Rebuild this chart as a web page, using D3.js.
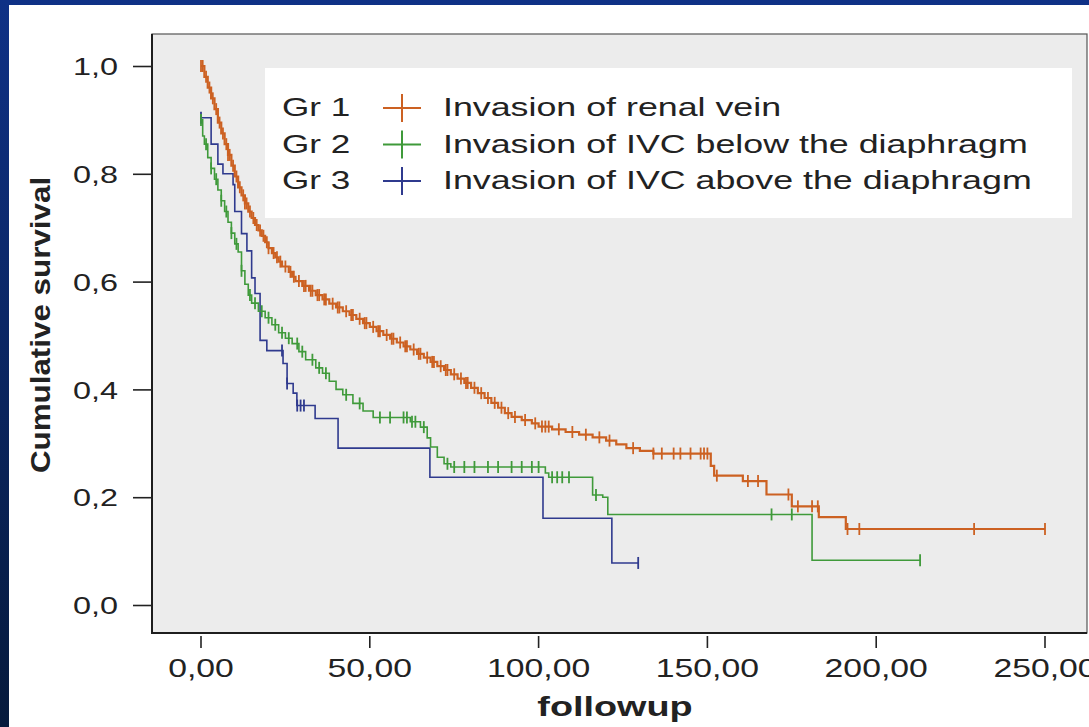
<!DOCTYPE html>
<html lang="en">
<head>
<meta charset="UTF-8">
<title>Cumulative survival by group</title>
<script src="https://d3js.org/d3.v7.min.js"></script>
<style>
    body { margin: 0; background: #0b2a6e; }
    svg { display: block; }
    text { font-family: "Liberation Sans", Arial, sans-serif; fill: #222; }
</style>
</head>
<body>
<svg id="chart" width="1089" height="727"></svg>
<script>
// Kaplan-Meier steps: [time, survival after the drop]
const gr1Steps = [[0,1.000],[1,.980],[2,.960],[3,.940],[4,.920],[5,.895],[6,.875],[7,.855],[8,.835],[9,.815],
    [10,.795],[11,.775],[12,.760],[13,.745],[14,.730],[15,.718],[16,.705],[17,.695],[18,.685],[19,.673],
    [20,.662],[21,.653],[22,.645],[23,.637],[24,.628],[26,.618],[27,.609],[28,.601],[30,.592],[32,.583],
    [34,.575],[36,.567],[38,.559],[40,.552],[42,.545],[44,.538],[46,.531],[48,.523],[50,.516],[52,.508],
    [54,.501],[56,.494],[58,.487],[60,.480],[62,.474],[64,.466],[66,.459],[68,.451],[70,.443],[72,.436],
    [74,.428],[76,.420],[78,.412],[80,.403],[82,.393],[84,.384],[86,.375],[88,.366],[90,.356],[92,.349],
    [95,.343],[98,.337],[100,.331],[104,.326],[108,.321],[112,.316],[116,.311],[120,.305],[123,.298],
    [126,.291],[130,.286],[134,.281],[151,.258],[152,.240],[160.5,.230],[167.5,.205],[175,.183],
    [183,.163],[191,.141]];
const gr1End = 250;
const gr1Censor = [0,0.5,1.5,2.5,3.5,4.5,5.5,6.5,7.5,8,8.5,9.5,10.5,11.5,12.5,13,13.5,14.5,15.5,16.5,17.5,
    18.5,19.5,20,21.5,22.5,23.5,25,26.5,27.5,29,30.5,31,32.5,33,34.5,35,36.5,37,39,40.5,41,43,44.5,45,47,48.5,
    49,51,52.5,53,55,56.5,57,59,60.5,61,63,64.5,65,67,68.5,69,71,72.5,73,75,77,78.5,79,81,83,85,87,89,91,93,
    96,99,101,102,103,106,110,114,118,121,128,134,136.5,140,142,145,148,149,150,152.8,162,165,174,176.8,181,
    182.7,191.5,195,229,250];

const gr2Steps = [[0,.900],[0.5,.870],[1,.855],[2,.830],[3,.810],[4,.790],[5,.770],[6,.750],[7,.730],[8,.710],
    [9,.690],[10,.670],[11,.655],[12,.620],[13,.595],[14,.575],[15,.560],[17,.545],[19,.533],[21,.520],
    [23,.505],[25,.495],[27,.485],[29,.470],[31,.455],[34,.440],[36,.430],[38,.415],[40,.400],[42,.390],
    [45,.374],[48,.360],[51,.348],[62,.340],[65,.330],[67,.310],[68,.293],[70,.274],[72,.262],[74,.256],
    [102,.245],[103,.237],[116,.204],[119,.200],[120.5,.168],[181,.083]];
const gr2End = 213;
const gr2Censor = [0,1.5,3,4.5,6,7.5,9,10.5,12,14.5,16,18,20,22,24,26,28.5,30,33,35,37,43,47,53,56,60,61,
    62.5,63.5,66,73,75,78,81,85,88,92,95,98,100,104,105.5,107,109,117,169,175,213];

const gr3Steps = [[0,.904],[3,.855],[5,.818],[6.5,.800],[9.5,.780],[10,.730],[12,.689],[13.6,.657],
    [15,.607],[16,.578],[17.5,.491],[19.5,.472],[24.3,.448],[25.5,.411],[27.3,.393],[28.4,.370],
    [33.8,.346],[40.6,.291],[67.8,.237],[101.3,.161],[121.7,.078]];
const gr3End = 129.5;
const gr3Censor = [0,24,25.5,28.5,29.5,30.5,129.5];

const groupCodes = ["Gr 1", "Gr 2", "Gr 3"];
const groupNames = ["Invasion of renal vein", "Invasion of IVC below the diaphragm", "Invasion of IVC above the diaphragm"];
const groupColors = ["#cc6122", "#3f9a3a", "#2f3a8e"];

const xTicks = [0, 50, 100, 150, 200, 250];
const yTicks = [0, 0.2, 0.4, 0.6, 0.8, 1.0];

const SX = 1.35; // the slide stretches everything horizontally

const svg = d3.select("#chart");

// slide background + white panel
const defs = svg.append("defs");
const grad = defs.append("linearGradient").attr("id", "slide").attr("x1", 0).attr("y1", 0).attr("x2", 0).attr("y2", 1);
grad.append("stop").attr("offset", "0%").attr("stop-color", "#0f3186");
grad.append("stop").attr("offset", "100%").attr("stop-color", "#061a3c");
svg.append("rect").attr("width", 1089).attr("height", 727).attr("fill", "url(#slide)");
svg.append("rect").attr("x", 9).attr("y", 5).attr("width", 1080).attr("height", 722).attr("fill", "#fff");

const plot = {left: 152, top: 34, right: 1087, bottom: 633};

const x = d3.scaleLinear().domain([0, 250]).range([201, 1045]);
const y = d3.scaleLinear().domain([0, 1]).range([605, 66]);

svg.append("rect")
    .attr("x", plot.left).attr("y", plot.top)
    .attr("width", plot.right - plot.left).attr("height", plot.bottom - plot.top)
    .attr("fill", "#ececec").attr("stroke", "#555").attr("stroke-width", 1.2);
svg.append("path")
    .attr("d", `M${plot.left},${plot.top}V${plot.bottom}H${plot.right}`)
    .attr("fill", "none").attr("stroke", "#1e1e1e").attr("stroke-width", 2);

const loc = d3.formatLocale({decimal: ",", thousands: ".", grouping: [3], currency: ["", ""]});

// y axis
const yAxis = svg.append("g")
    .attr("transform", `translate(${plot.left},0)`)
    .call(d3.axisLeft(y).tickValues(yTicks).tickSize(19).tickFormat(loc.format(".1f")));
yAxis.select(".domain").remove();
yAxis.selectAll(".tick line").attr("stroke", "#222").attr("stroke-width", 1.6);
yAxis.selectAll(".tick text")
    .attr("x", -34 / SX).attr("dy", "0.36em")
    .attr("transform", `scale(${SX},1)`)
    .style("font-size", "24px").style("fill", "#222");

// x axis (the last label runs off the slide, as in the original)
const xAxis = svg.append("g")
    .attr("transform", `translate(0,${plot.bottom})`)
    .call(d3.axisBottom(x).tickValues(xTicks).tickSize(15).tickFormat(loc.format(".2f")));
xAxis.select(".domain").remove();
xAxis.selectAll(".tick line").attr("stroke", "#222").attr("stroke-width", 1.6).attr("y1", 3);
xAxis.selectAll(".tick text")
    .attr("y", 44).attr("dy", 0)
    .attr("transform", `scale(${SX},1)`)
    .style("font-size", "25px").style("fill", "#222");
xAxis.selectAll(".tick").each(function(d) {
    d3.select(this).select("text").attr("x", 0);
    d3.select(this).attr("transform", `translate(${x(d)},0)`);
});

// axis titles
svg.append("text")
    .attr("transform", `translate(615,716) scale(${SX},1)`)
    .attr("text-anchor", "middle")
    .style("font-size", "28px").style("font-weight", "bold")
    .text("followup");
svg.append("text")
    .attr("transform", `translate(50,325) rotate(-90) scale(1.12,1)`)
    .attr("text-anchor", "middle")
    .style("font-size", "28px").style("font-weight", "bold")
    .text("Cumulative survival");

// curves
const groups = [
    {steps: gr1Steps, end: gr1End, censor: gr1Censor},
    {steps: gr2Steps, end: gr2End, censor: gr2Censor},
    {steps: gr3Steps, end: gr3End, censor: gr3Censor}
];

const line = d3.line().x(d => x(d[0])).y(d => y(d[1])).curve(d3.curveStepAfter);

function survAt(steps, t) {
    let s = steps[0][1];
    for (const st of steps) { if (st[0] <= t) s = st[1]; }
    return s;
}

const curves = svg.append("g");
[2, 1, 0].forEach(i => {
    const g = groups[i];
    const pts = g.steps.concat([[g.end, g.steps[g.steps.length - 1][1]]]);
    curves.append("path")
        .attr("d", line(pts))
        .attr("fill", "none")
        .attr("stroke", groupColors[i])
        .attr("stroke-width", i === 0 ? 2.2 : 1.6);
    curves.selectAll(null)
        .data(g.censor)
        .enter().append("line")
        .attr("x1", d => x(d)).attr("x2", d => x(d))
        .attr("y1", d => y(survAt(g.steps, d)) - 6)
        .attr("y2", d => y(survAt(g.steps, d)) + 6)
        .attr("stroke", groupColors[i])
        .attr("stroke-width", 1.8);
});

// legend
const legend = svg.append("g");
legend.append("rect")
    .attr("x", 265).attr("y", 68).attr("width", 807).attr("height", 150)
    .attr("fill", "#fff");
groupCodes.forEach((code, i) => {
    const cy = 108 + i * 36.5;
    legend.append("text")
        .attr("transform", `translate(282,${cy + 8}) scale(${SX},1)`)
        .style("font-size", "26px")
        .text(code);
    legend.append("line")
        .attr("x1", 383).attr("x2", 421).attr("y1", cy).attr("y2", cy)
        .attr("stroke", groupColors[i]).attr("stroke-width", 2);
    legend.append("line")
        .attr("x1", 402).attr("x2", 402).attr("y1", cy - 14).attr("y2", cy + 14)
        .attr("stroke", groupColors[i]).attr("stroke-width", 2);
    legend.append("text")
        .attr("transform", `translate(443,${cy + 8}) scale(${SX * 1.02},1)`)
        .style("font-size", "26px")
        .text(groupNames[i]);
});
</script>
</body>
</html>
